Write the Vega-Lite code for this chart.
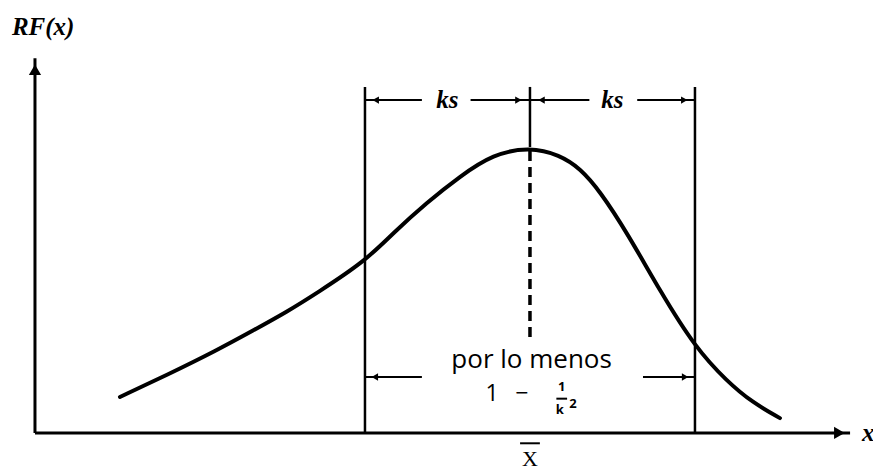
{
  "$schema": "https://vega.github.io/schema/vega-lite/v6.json",
  "width": 873,
  "height": 471,
  "padding": 0,
  "autosize": {"type": "none"},
  "background": "white",
  "config": {"view": {"stroke": null}},
  "datasets": {
    "curve": [
      {"x": -4.97, "y": 0.126}, {"x": -4.40, "y": 0.203}, {"x": -3.79, "y": 0.290},
      {"x": -3.36, "y": 0.358}, {"x": -2.95, "y": 0.423}, {"x": -2.58, "y": 0.490},
      {"x": -2.00, "y": 0.600}, {"x": -1.66, "y": 0.699}, {"x": -1.25, "y": 0.806},
      {"x": -0.85, "y": 0.897}, {"x": -0.45, "y": 0.975}, {"x": 0.00, "y": 1.000},
      {"x": 0.36, "y": 0.972}, {"x": 0.61, "y": 0.925}, {"x": 0.85, "y": 0.845},
      {"x": 1.18, "y": 0.699}, {"x": 1.58, "y": 0.495}, {"x": 2.00, "y": 0.300},
      {"x": 2.39, "y": 0.180}, {"x": 2.70, "y": 0.106}, {"x": 3.03, "y": 0.052}
    ],
    "axes": [
      {"x": -6.0, "x2": -6.0, "y": 0, "y2": 1.31},
      {"x": -6.0, "x2": 3.88, "y": 0, "y2": 0}
    ],
    "bounds": [
      {"x": -2, "x2": -2, "y": 0, "y2": 1.21},
      {"x": 2, "x2": 2, "y": 0, "y2": 1.21},
      {"x": 0, "x2": 0, "y": 1.0, "y2": 1.21}
    ],
    "dashed": [
      {"x": 0, "x2": 0, "y": 0.336, "y2": 1.0}
    ],
    "dims": [
      {"x": -2, "x2": -1.31, "y": 1.164, "y2": 1.164},
      {"x": -0.72, "x2": 0, "y": 1.164, "y2": 1.164},
      {"x": 0, "x2": 0.72, "y": 1.164, "y2": 1.164},
      {"x": 1.3, "x2": 2, "y": 1.164, "y2": 1.164},
      {"x": -2, "x2": -1.31, "y": 0.196, "y2": 0.196},
      {"x": 1.37, "x2": 2, "y": 0.196, "y2": 0.196},
      {"x": 0.32, "x2": 0.45, "y": 0.120, "y2": 0.120},
      {"x": -0.12, "x2": 0.12, "y": -0.036, "y2": -0.036}
    ],
    "heads": [
      {"x": -1.87, "y": 1.164, "dir": "left"},
      {"x": -0.14, "y": 1.164, "dir": "right"},
      {"x": 0.14, "y": 1.164, "dir": "left"},
      {"x": 1.87, "y": 1.164, "dir": "right"},
      {"x": -1.88, "y": 0.196, "dir": "left"},
      {"x": 1.88, "y": 0.196, "dir": "right"}
    ],
    "bigheads": [
      {"x": -6.0, "y": 1.27, "dir": "up"},
      {"x": 3.75, "y": 0, "dir": "right"}
    ],
    "title": [
      {"x": -6.28, "y": 1.42, "label": "RF(x)"}
    ],
    "serif": [
      {"x": -1.0, "y": 1.164, "label": "ks"},
      {"x": 1.0, "y": 1.164, "label": "ks"},
      {"x": 4.1, "y": 0.0, "label": "x"}
    ],
    "xbar": [
      {"x": 0, "y": -0.092, "label": "X"}
    ],
    "menos": [
      {"x": 0.02, "y": 0.255, "label": "por lo menos"}
    ],
    "one": [
      {"x": -0.46, "y": 0.135, "label": "1"},
      {"x": -0.10, "y": 0.135, "label": "−"}
    ],
    "small": [
      {"x": 0.385, "y": 0.162, "label": "1"},
      {"x": 0.36, "y": 0.080, "label": "k"},
      {"x": 0.52, "y": 0.100, "label": "2"}
    ]
  },
  "encoding": {
    "x": {"field": "x", "type": "quantitative", "scale": {"domain": [-6.424, 4.158], "nice": false, "zero": false}, "axis": null},
    "y": {"field": "y", "type": "quantitative", "scale": {"domain": [-0.1329, 1.514], "nice": false, "zero": false}, "axis": null}
  },
  "layer": [
    {
      "data": {"name": "axes"},
      "mark": {"type": "rule", "color": "black", "strokeWidth": 3},
      "encoding": {"x2": {"field": "x2"}, "y2": {"field": "y2"}}
    },
    {
      "data": {"name": "bounds"},
      "mark": {"type": "rule", "color": "black", "strokeWidth": 2.5},
      "encoding": {"x2": {"field": "x2"}, "y2": {"field": "y2"}}
    },
    {
      "data": {"name": "dashed"},
      "mark": {"type": "rule", "color": "black", "strokeWidth": 3.5, "strokeDash": [10, 6]},
      "encoding": {"x2": {"field": "x2"}, "y2": {"field": "y2"}}
    },
    {
      "data": {"name": "dims"},
      "mark": {"type": "rule", "color": "black", "strokeWidth": 2},
      "encoding": {"x2": {"field": "x2"}, "y2": {"field": "y2"}}
    },
    {
      "data": {"name": "heads"},
      "mark": {"type": "point", "filled": true, "color": "black", "opacity": 1, "size": 55},
      "encoding": {
        "shape": {"field": "dir", "type": "nominal", "scale": {"domain": ["left", "right", "up"], "range": ["triangle-left", "triangle-right", "triangle-up"]}, "legend": null}
      }
    },
    {
      "data": {"name": "bigheads"},
      "mark": {"type": "point", "filled": true, "color": "black", "opacity": 1, "size": 150},
      "encoding": {
        "shape": {"field": "dir", "type": "nominal", "scale": {"domain": ["left", "right", "up"], "range": ["triangle-left", "triangle-right", "triangle-up"]}, "legend": null}
      }
    },
    {
      "data": {"name": "curve"},
      "mark": {"type": "line", "color": "black", "strokeWidth": 4, "interpolate": "basis", "strokeCap": "round"},
      "encoding": {}
    },
    {
      "data": {"name": "title"},
      "mark": {"type": "text", "font": "Liberation Serif", "fontStyle": "italic", "fontWeight": "bold", "fontSize": 25, "color": "black", "baseline": "middle", "align": "left"},
      "encoding": {"text": {"field": "label"}}
    },
    {
      "data": {"name": "serif"},
      "mark": {"type": "text", "font": "Liberation Serif", "fontStyle": "italic", "fontWeight": "bold", "fontSize": 25, "color": "black", "baseline": "middle", "align": "center"},
      "encoding": {"text": {"field": "label"}}
    },
    {
      "data": {"name": "xbar"},
      "mark": {"type": "text", "font": "Liberation Serif", "fontSize": 22, "color": "black", "baseline": "middle", "align": "center"},
      "encoding": {"text": {"field": "label"}}
    },
    {
      "data": {"name": "menos"},
      "mark": {"type": "text", "font": "Open Sans", "fontSize": 26, "color": "black", "baseline": "middle", "align": "center"},
      "encoding": {"text": {"field": "label"}}
    },
    {
      "data": {"name": "one"},
      "mark": {"type": "text", "font": "Open Sans", "fontSize": 23, "color": "black", "baseline": "middle", "align": "center"},
      "encoding": {"text": {"field": "label"}}
    },
    {
      "data": {"name": "small"},
      "mark": {"type": "text", "font": "Open Sans", "fontSize": 13, "fontWeight": "bold", "color": "black", "baseline": "middle", "align": "center"},
      "encoding": {"text": {"field": "label"}}
    }
  ]
}
